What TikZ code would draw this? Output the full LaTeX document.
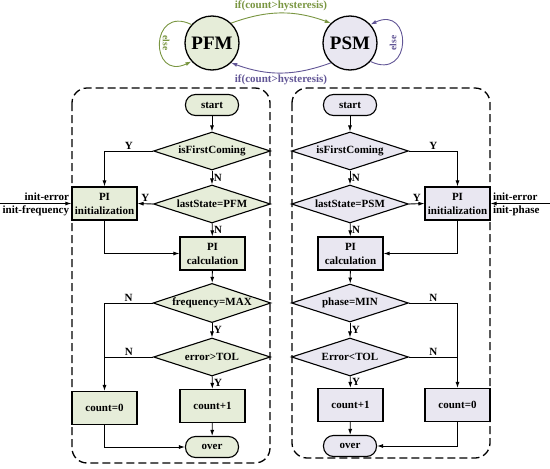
\documentclass[tikz,border=0pt]{standalone}
\usepackage{fontspec}
\setmainfont{Liberation Serif}
\usepackage{tikz}
\usetikzlibrary{arrows.meta,positioning,shapes,calc}
\usepackage{xcolor}
\definecolor{pfmfill}{RGB}{230,237,217}
\definecolor{psmfill}{RGB}{233,231,241}
\definecolor{pfmline}{RGB}{122,150,66}
\definecolor{psmline}{RGB}{98,86,150}

\begin{document}
\begin{tikzpicture}[x=1pt, y=-1pt, >={Latex[length=6pt,width=4pt]},
    font=\fontsize{11}{14}\selectfont\bfseries,
    every path/.style={line width=0.9pt},
    proc/.style={draw, line width=1.1pt, minimum width=65pt, minimum height=33pt, align=center, inner sep=1pt},
    dec/.style={draw, diamond, aspect=3, line width=1.1pt, minimum width=117pt, minimum height=38pt, inner sep=1pt},
    term/.style={draw, rectangle, rounded corners=10pt, line width=1.1pt, minimum width=53pt, minimum height=21pt},
    state/.style={draw, circle, line width=1.3pt, minimum size=54pt, inner sep=0pt, font=\fontsize{19}{21}\selectfont\bfseries},
    yn/.style={font=\fontsize{11}{12}\selectfont\bfseries, inner sep=1.5pt},
    frame/.style={draw, dashed, dash pattern=on 8pt off 4pt, line width=1.3pt, rounded corners=15pt}]
    \useasboundingbox (0,0) rectangle (550,469);
    % mode switching
    \node[state, fill=pfmfill] (pfm) at (212,43) {PFM};
    \node[state, fill=psmfill] (psm) at (350,43) {PSM};
    \draw[->, pfmline] (pfm.46) to[bend left=20] node[above, yn, pfmline] {if(count>hysteresis)} (psm.134);
    \draw[->, psmline] (psm.226) to[bend left=20] node[below, yn, psmline] {if(count>hysteresis)} (pfm.314);
    \draw[->, pfmline] (pfm.138) .. controls +(-42,-20) and +(-42,20) .. (pfm.222);
    \draw[->, psmline] (psm.-42) .. controls +(42,20) and +(42,-20) .. (psm.42);
    \node[rotate=-90, pfmline, font=\fontsize{9.5}{10}\selectfont\bfseries] (else1) at (166,43) {else};
    \node[rotate=90, psmline, font=\fontsize{9.5}{10}\selectfont\bfseries] (else2) at (393,43) {else};
    % frames
    \draw[frame] (72,88) rectangle (270,463);
    \draw[frame] (292,88) rectangle (490,458);
    % PFM flow
    \node[term, fill=pfmfill] (start1) at (212,105) {start};
    \node[dec, fill=pfmfill] (fc1) at (212,151) {isFirstComing};
    \node[dec, fill=pfmfill] (ls1) at (212,204) {lastState=PFM};
    \node[proc, fill=pfmfill] (init1) at (104.5,203.5) {PI\\initialization};
    \node[proc, fill=pfmfill] (calc1) at (212.5,253.5) {PI\\calculation};
    \node[dec, fill=pfmfill] (fm1) at (212,303) {frequency=MAX};
    \node[dec, fill=pfmfill] (err1) at (212,357) {error>TOL};
    \node[proc, fill=pfmfill] (cz1) at (104.5,408) {count=0};
    \node[proc, fill=pfmfill] (ci1) at (212.5,406) {count+1};
    \node[term, fill=pfmfill] (over1) at (212,447) {over};
    \coordinate (in1) at (0,203.5);
    \coordinate (j1) at (err1.west -| cz1.north);
    \draw[->] (in1) -- (init1.west);
    \node[anchor=south east, inner sep=2pt] (ie1) at (init1.west) {init-error};
    \node[anchor=north east, inner sep=2pt] (if1) at (init1.west) {init-frequency};
    \draw[->] (start1) -- (fc1);
    \draw[->] (fc1.west) -| (init1.north) node[pos=0.25, above, yn] {Y};
    \draw[->] (fc1) -- (ls1) node[midway, right, yn] {N};
    \draw[->] (ls1.west) -- (init1.east) node[midway, above, yn] {Y};
    \draw[->] (ls1) -- (calc1) node[midway, right, yn] {N};
    \draw[->] (init1.south) |- (calc1.west);
    \draw[->] (calc1) -- (fm1);
    \draw[->] (fm1.west) -| (cz1.north) node[pos=0.25, above, yn] {N};
    \draw[->] (fm1) -- (err1) node[midway, right, yn] {Y};
    \draw (err1.west) -- (j1) node[midway, above, yn] {N};
    \draw[->] (err1) -- (ci1) node[midway, right, yn] {Y};
    \draw[->] (ci1) -- (over1);
    \draw[->] (cz1.south) |- (over1.west);
    % PSM flow
    \node[term, fill=psmfill] (start2) at (350,105) {start};
    \node[dec, fill=psmfill] (fc2) at (350,151) {isFirstComing};
    \node[dec, fill=psmfill] (ls2) at (350,204) {lastState=PSM};
    \node[proc, fill=psmfill] (init2) at (457.5,203.5) {PI\\initialization};
    \node[proc, fill=psmfill] (calc2) at (350.5,253.5) {PI\\calculation};
    \node[dec, fill=psmfill] (ph2) at (350,303) {phase=MIN};
    \node[dec, fill=psmfill] (err2) at (350,357) {Error<TOL};
    \node[proc, fill=psmfill] (ci2) at (350.5,405) {count+1};
    \node[proc, fill=psmfill] (cz2) at (457.5,405) {count=0};
    \node[term, fill=psmfill] (over2) at (350,446) {over};
    \coordinate (in2) at (550,203.5);
    \coordinate (j2) at (err2.east -| cz2.north);
    \draw[->] (in2) -- (init2.east);
    \node[anchor=south west, inner sep=2pt] (ie2) at (init2.east) {init-error};
    \node[anchor=north west, inner sep=2pt] (ip2) at (init2.east) {init-phase};
    \draw[->] (start2) -- (fc2);
    \draw[->] (fc2.east) -| (init2.north) node[pos=0.25, above, yn] {Y};
    \draw[->] (fc2) -- (ls2) node[midway, right, yn] {N};
    \draw[->] (ls2.east) -- (init2.west) node[midway, above, yn] {Y};
    \draw[->] (ls2) -- (calc2) node[midway, right, yn] {N};
    \draw[->] (init2.south) |- (calc2.east);
    \draw[->] (calc2) -- (ph2);
    \draw[->] (ph2.east) -| (cz2.north) node[pos=0.25, above, yn] {N};
    \draw[->] (ph2) -- (err2) node[midway, right, yn] {Y};
    \draw (err2.east) -- (j2) node[midway, above, yn] {N};
    \draw[->] (err2) -- (ci2) node[midway, right, yn] {Y};
    \draw[->] (ci2) -- (over2);
    \draw[->] (cz2.south) |- (over2.east);
\end{tikzpicture}
\end{document}
